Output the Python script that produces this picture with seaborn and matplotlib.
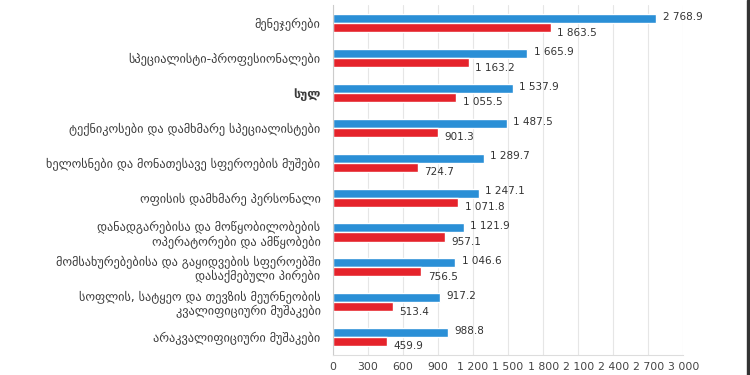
import numpy as np
import pandas as pd
import matplotlib
matplotlib.use("Agg")
import matplotlib.pyplot as plt
import seaborn as sns

categories = [
    "მენეჯერები",
    "სპეციალისტი-პროფესიონალები",
    "სულ",
    "ტექნიკოსები და დამხმარე სპეციალისტები",
    "ხელოსნები და მონათესავე სფეროების მუშები",
    "ოფისის დამხმარე პერსონალი",
    "დანადგარებისა და მოწყობილობების\nოპერატორები და ამწყობები",
    "მომსახურებებისა და გაყიდვების სფეროებში\nდასაქმებული პირები",
    "სოფლის, სატყეო და თევზის მეურნეობის\nკვალიფიციური მუშაკები",
    "არაკვალიფიციური მუშაკები",
]
blue_vals = [2768.9, 1665.9, 1537.9, 1487.5, 1289.7, 1247.1, 1121.9, 1046.6, 917.2, 988.8]
red_vals = [1863.5, 1163.2, 1055.5, 901.3, 724.7, 1071.8, 957.1, 756.5, 513.4, 459.9]
series = ["კაცი", "ქალი"]
xticks = [0, 300, 600, 900, 1200, 1500, 1800, 2100, 2400, 2700, 3000]

BLUE = "#2a8fd6"
RED = "#e5232b"

df = pd.DataFrame({
    "cat": categories * 2,
    "series": [series[0]] * len(categories) + [series[1]] * len(categories),
    "value": blue_vals + red_vals,
})


def fmt(v, dec=1):
    s = f"{v:,.{dec}f}" if dec else f"{v:,.0f}"
    return s.replace(",", " ")


sns.set_style("white")
plt.rcParams["font.family"] = ["DejaVu Sans"]

fig = plt.figure(figsize=(7.5, 3.75), dpi=100)
ax = fig.add_axes([0.444, 0.053, 0.467, 0.933])

sns.barplot(data=df, y="cat", x="value", hue="series", order=categories,
            hue_order=series, palette=[BLUE, RED], orient="h", width=0.52,
            saturation=1, legend=False, ax=ax)

# value labels: blue a bit above, red a bit below
for cont, dy in zip(ax.containers, (-0.05, 0.14)):
    for bar in cont:
        w = bar.get_width()
        yc = bar.get_y() + bar.get_height() / 2
        ax.text(w + 55, yc + dy, fmt(w), ha="left", va="center",
                fontsize=7.5, color="#333333")

ax.set_xlim(0, 3000)
ax.set_ylim(len(categories) - 0.48, -0.52)
ax.set_xticks(xticks)
ax.set_xticklabels([fmt(t, 0) for t in xticks], fontsize=7.8, color="#444444")
ax.xaxis.grid(True, color="#e6e6e6", lw=0.8)
ax.set_axisbelow(True)
ax.tick_params(axis="x", length=3, color="#d0d0d0", pad=2)
ax.tick_params(axis="y", length=0, pad=9)
for lab in ax.get_yticklabels():
    lab.set_fontsize(8.8)
    lab.set_color("#3a3a3a")
    lab.set_linespacing(1.15)
    if lab.get_text() == "სულ":
        lab.set_fontweight("bold")
ax.set_xlabel("")
ax.set_ylabel("")
for s in ("top", "right"):
    ax.spines[s].set_visible(False)
ax.spines["left"].set_color("#cccccc")
ax.spines["bottom"].set_color("#dddddd")

# dark edge at the right of the image
fig.patches.append(plt.Rectangle((0.996, 0), 0.004, 1, transform=fig.transFigure,
                                 color="#333333", zorder=5))

fig.savefig("out.png", dpi=100)
